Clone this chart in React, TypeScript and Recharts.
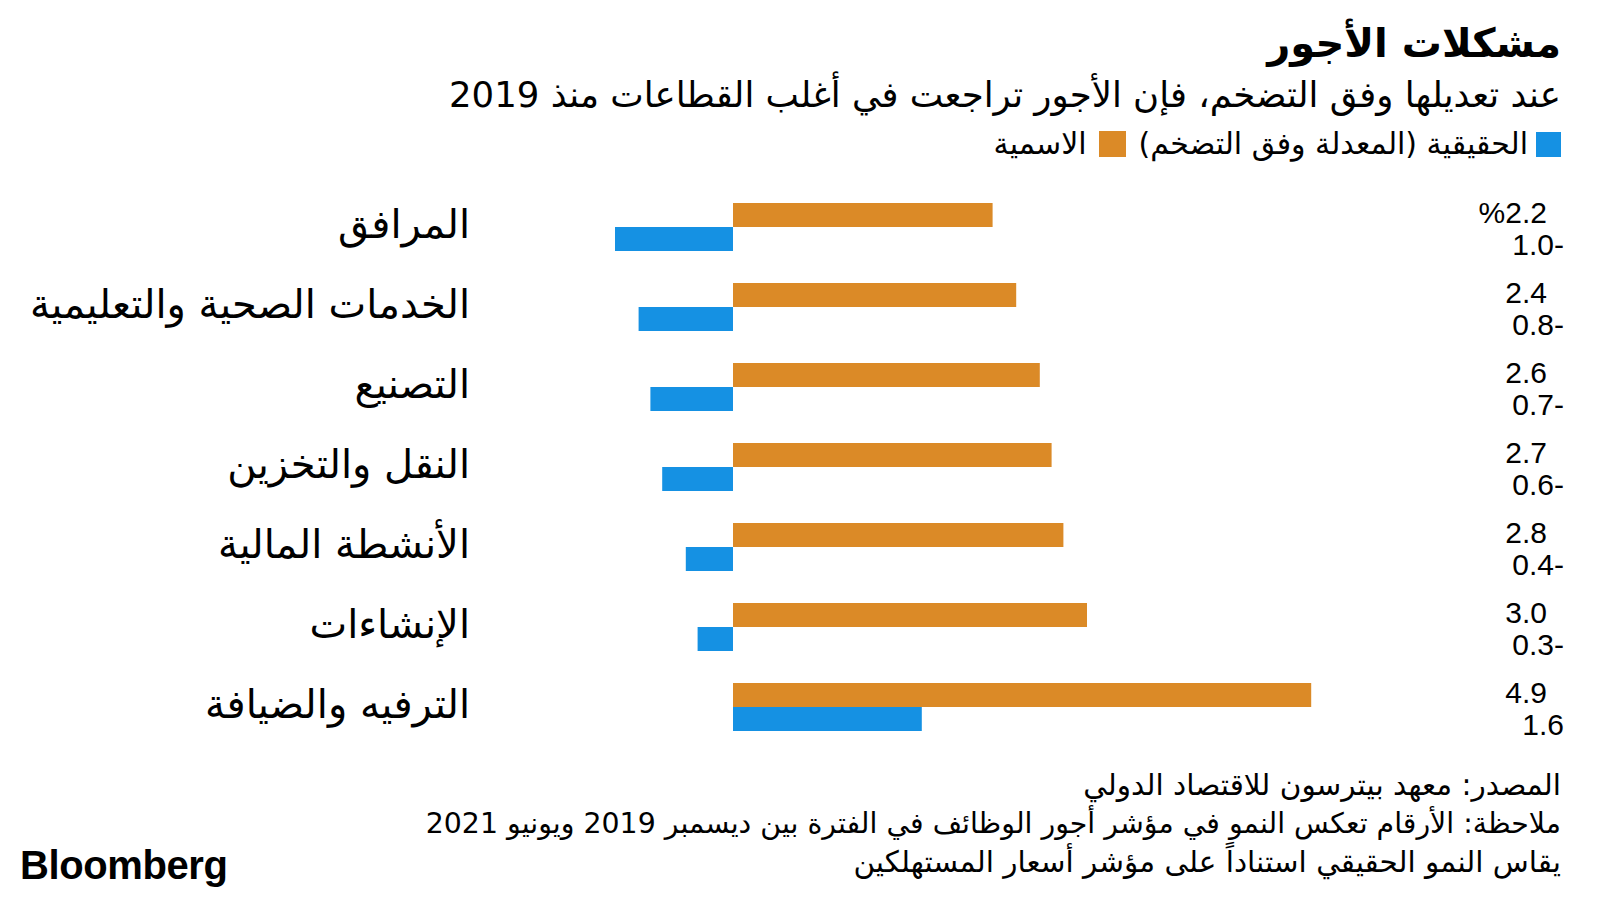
import React from 'react';
import { BarChart, Bar, XAxis, YAxis, LabelList } from 'recharts';

const sectors = [
  'المرافق',
  'الخدمات الصحية والتعليمية',
  'التصنيع',
  'النقل والتخزين',
  'الأنشطة المالية',
  'الإنشاءات',
  'الترفيه والضيافة',
];
const nominal = [2.2, 2.4, 2.6, 2.7, 2.8, 3.0, 4.9];
const real = [-1.0, -0.8, -0.7, -0.6, -0.4, -0.3, 1.6];

const ORANGE = '#DB8A27';
const BLUE = '#1591E3';
const AR = '"DejaVu Sans", sans-serif';
const NUM = '"Liberation Sans", Arial, sans-serif';

const data = sectors.map((sector, i) => ({ sector, nominal: nominal[i], real: real[i] }));

const fmt = (v: number, first: boolean) => {
  const s = Math.abs(v).toFixed(1);
  if (v < 0) return `${s}-`;
  return first ? `%${s}` : s;
};

const valueLabel = (dy: number, labelX: number) => (props: any) => {
  const { y, height, value, index } = props;
  return (
    <text
      x={labelX}
      y={y + height / 2 + dy}
      textAnchor="end"
      dominantBaseline="central"
      fontFamily={NUM}
      fontSize={30}
      fill="#000"
    >
      {fmt(value, index === 0)}
    </text>
  );
};

const abs = (style: React.CSSProperties): React.CSSProperties => ({
  position: 'absolute',
  whiteSpace: 'nowrap',
  color: '#000',
  ...style,
});

const App: React.FC = () => {
  return (
    <div style={{ position: 'absolute', left: 0, top: 0, width: 1600, height: 900, background: '#fff' }}>
      <div dir="rtl" style={abs({ right: 39, top: 18, fontFamily: AR, fontWeight: 700, fontSize: 40, lineHeight: '50px' })}>
        مشكلات الأجور
      </div>
      <div dir="rtl" style={abs({ right: 39, top: 73, fontFamily: AR, fontSize: 35.5, lineHeight: '44px' })}>
        عند تعديلها وفق التضخم، فإن الأجور تراجعت في أغلب القطاعات منذ 2019
      </div>
      <div dir="rtl" style={abs({ right: 39, top: 126, fontFamily: AR, fontSize: 30, lineHeight: '36px', display: 'flex', alignItems: 'center' })}>
        <span style={{ display: 'inline-block', width: 25, height: 25, background: BLUE, marginLeft: 8 }} />
        <span>الحقيقية (المعدلة وفق التضخم)</span>
        <span style={{ display: 'inline-block', width: 27, height: 26, background: ORANGE, marginLeft: 12, marginRight: 13 }} />
        <span>الاسمية</span>
      </div>

      <div style={{ position: 'absolute', left: 0, top: 0 }}>
        <BarChart
          width={1600}
          height={900}
          data={data}
          layout="vertical"
          margin={{ top: 187, bottom: 153, left: 0, right: 41 }}
          barCategoryGap={16}
          barGap={0}
        >
          <XAxis type="number" domain={[-2, 7]} hide />
          <YAxis
            type="category"
            dataKey="sector"
            width={497}
            axisLine={false}
            tickLine={false}
            tickMargin={21}
            tick={{ fill: '#000', fontSize: 40, fontFamily: AR, dy: -3 }}
          />
          <Bar dataKey="nominal" fill={ORANGE} isAnimationActive={false}>
            <LabelList dataKey="nominal" content={valueLabel(-3, 1547)} />
          </Bar>
          <Bar dataKey="real" fill={BLUE} isAnimationActive={false}>
            <LabelList dataKey="real" content={valueLabel(5, 1564)} />
          </Bar>
        </BarChart>
      </div>

      <div dir="rtl" style={abs({ right: 39, top: 766, fontFamily: AR, fontSize: 29.5, lineHeight: '38px' })}>
        المصدر: معهد بيترسون للاقتصاد الدولي
        <br />
        <span style={{ fontSize: 28.4 }}>
          ملاحظة: الأرقام تعكس النمو في مؤشر أجور الوظائف في الفترة بين ديسمبر 2019 ويونيو 2021
        </span>
        <br />
        يقاس النمو الحقيقي استناداً على مؤشر أسعار المستهلكين
      </div>
      <div style={abs({ left: 20, top: 843, fontFamily: NUM, fontWeight: 700, fontSize: 40, letterSpacing: -0.4, lineHeight: '44px' })}>
        Bloomberg
      </div>
    </div>
  );
};

export default App;
